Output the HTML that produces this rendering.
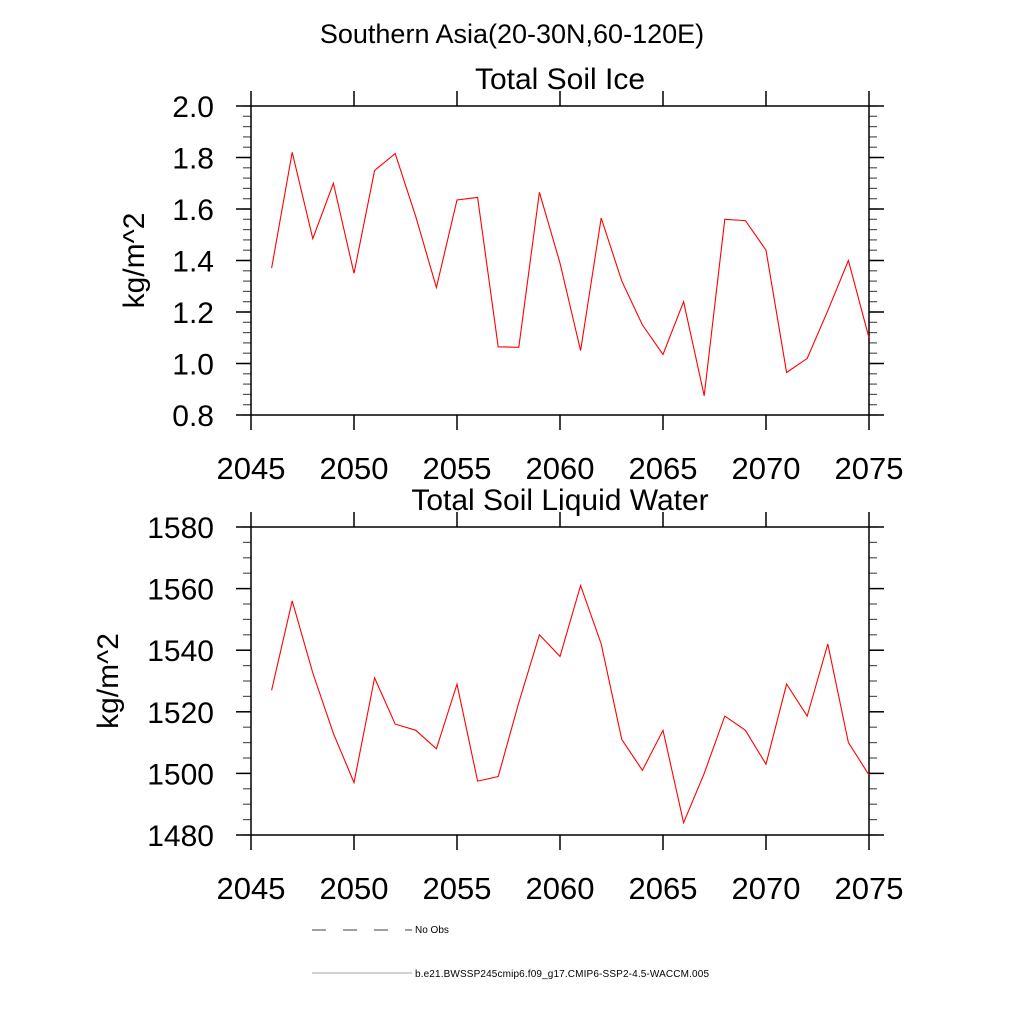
<!DOCTYPE html>
<html><head><meta charset="utf-8"><style>
body{margin:0;background:#fff;}
svg text{font-family:"Liberation Sans",sans-serif;fill:#000;}
</style></head><body>
<svg id="c" width="1024" height="1024" xmlns="http://www.w3.org/2000/svg">
<text x="512" y="43" font-size="27" text-anchor="middle">Southern Asia(20-30N,60-120E)</text>
<g id="p1"></g>
<g id="p2"></g>
<g>
<line x1="312" y1="930" x2="412" y2="930" stroke="#000" stroke-width="0.8" stroke-dasharray="14,17"/>
<text x="415" y="933" font-size="10">No Obs</text>
<line x1="312" y1="973" x2="412" y2="973" stroke="#888" stroke-width="0.8"/>
<text x="415" y="977" font-size="10" textLength="294">b.e21.BWSSP245cmip6.f09_g17.CMIP6-SSP2-4.5-WACCM.005</text>
</g>
</svg>
<script>
const years=[2046,2047,2048,2049,2050,2051,2052,2053,2054,2055,2056,2057,2058,2059,2060,2061,2062,2063,2064,2065,2066,2067,2068,2069,2070,2071,2072,2073,2074,2075];
const iceValues=[1.37,1.82,1.485,1.70,1.35,1.75,1.815,1.57,1.295,1.635,1.645,1.065,1.063,1.665,1.39,1.05,1.565,1.32,1.15,1.035,1.24,0.875,1.56,1.555,1.44,0.965,1.02,1.205,1.40,1.10];
const liquidValues=[1527,1556,1532.6,1513,1497,1531,1516,1514,1508,1529,1497.5,1499,1523,1545,1538,1561,1542,1511,1501,1514,1484,1500,1518.6,1514,1503,1529,1518.6,1542,1510,1499.5];
const xTickLabels=["2045","2050","2055","2060","2065","2070","2075"];
const iceTickLabels=["0.8","1.0","1.2","1.4","1.6","1.8","2.0"];
const liquidTickLabels=["1480","1500","1520","1540","1560","1580"];
const NS="http://www.w3.org/2000/svg";
function mk(p,t,a){const e=document.createElementNS(NS,t);for(const k in a)e.setAttribute(k,a[k]);p.appendChild(e);return e;}
function panel(g,title,vals,yt,ymin,ymax,minorStep,top,bot,ylabX){
  const L=251,R=869,xmin=2045,xmax=2075;
  const X=v=>L+(v-xmin)/(xmax-xmin)*(R-L);
  const Y=v=>bot-(v-ymin)/(ymax-ymin)*(bot-top);
  const t=mk(g,'text',{x:560,y:top-17,'font-size':30,'text-anchor':'middle'});t.textContent=title;
  
  
  for(let v=ymin;v<=ymax+1e-9;v+=minorStep){const y=Y(v);
    mk(g,'line',{x1:L-8,y1:y,x2:L,y2:y,stroke:'#555','stroke-width':1.2});
    mk(g,'line',{x1:R,y1:y,x2:R+8,y2:y,stroke:'#555','stroke-width':1.2});}
  yt.forEach(s=>{const v=parseFloat(s),y=Y(v);
    mk(g,'line',{x1:L-15,y1:y,x2:L,y2:y,stroke:'#000','stroke-width':1.5});
    mk(g,'line',{x1:R,y1:y,x2:R+15,y2:y,stroke:'#000','stroke-width':1.5});
    const e=mk(g,'text',{x:L-37,y:y+11,'font-size':30,'text-anchor':'end'});e.textContent=s;
    
    });
  xTickLabels.forEach(s=>{const x=X(parseFloat(s));
    mk(g,'line',{x1:x,y1:top-15,x2:x,y2:top,stroke:'#000','stroke-width':1.5});
    mk(g,'line',{x1:x,y1:bot,x2:x,y2:bot+15,stroke:'#000','stroke-width':1.5});
    const e=mk(g,'text',{x:x,y:bot+64,'font-size':31,'text-anchor':'middle'});e.textContent=s;
    
    });
  const f=mk(g,'rect',{x:L,y:top,width:R-L,height:bot-top,fill:'none',stroke:'#000','stroke-width':1.5});
  
  
  const yl=mk(g,'text',{x:0,y:0,'font-size':30,'text-anchor':'middle',transform:`translate(${ylabX},${(top+bot)/2}) rotate(-90)`});
  yl.textContent='kg/m^2';
  
  
  const pts=vals.map((v,i)=>X(years[i]).toFixed(1)+','+Y(v).toFixed(1)).join(' ');
  const pl=mk(g,'polyline',{points:pts,fill:'none',stroke:'#f00','stroke-width':1.1});
  
  
}
panel(document.getElementById('p1'),'Total Soil Ice',iceValues,iceTickLabels,0.8,2.0,0.04,106,415,144);
panel(document.getElementById('p2'),'Total Soil Liquid Water',liquidValues,liquidTickLabels,1480,1580,5,527,835,118);
</script>
</body></html>
